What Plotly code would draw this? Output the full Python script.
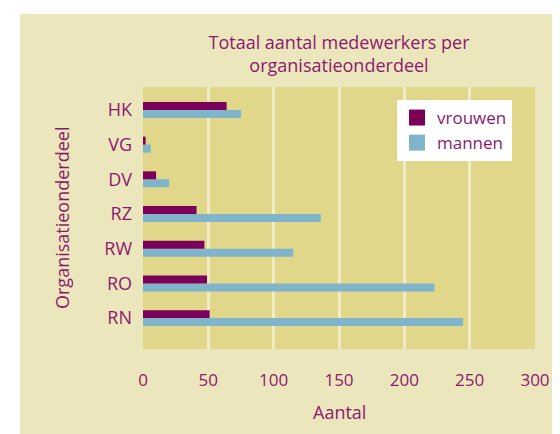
import plotly.graph_objects as go

categories = ["RN", "RO", "RW", "RZ", "DV", "VG", "HK"]
vrouwen = [51, 49, 47, 41, 10, 2, 64]
mannen = [245, 223, 115, 136, 20, 6, 75]

PURPLE = "#7a0059"
BLUE = "#7fb4cb"
TEXT = "#8b1a6e"
OUTER = "#ece6bd"
INNER = "#e1d78b"
GRID = "#f1ebc6"
FONT = "Open Sans"

OFF = 8  # page body margin
W, H = 560 - OFF, 434 - OFF
L, T = 143 - OFF, 87 - OFF
R, B = W - (535 - OFF), H - (349 - OFF)
pw, ph = W - L - R, H - T - B


def px(x):
    return (x - OFF - L) / pw


def py(y):
    return (H - B - (y - OFF)) / ph


fig = go.Figure()
fig.add_trace(go.Bar(y=categories, x=mannen, orientation="h", marker=dict(color=BLUE, line_width=0),
                     showlegend=False, name="mannen"))
fig.add_trace(go.Bar(y=categories, x=vrouwen, orientation="h", marker=dict(color=PURPLE, line_width=0),
                     showlegend=False, name="vrouwen"))
fig.add_trace(go.Scatter(x=[None], y=[None], mode="markers", name="vrouwen",
                         marker=dict(symbol="square", size=16, color=PURPLE)))
fig.add_trace(go.Scatter(x=[None], y=[None], mode="markers", name="mannen",
                         marker=dict(symbol="square", size=16, color=BLUE)))

fig.update_layout(
    width=W, height=H,
    margin=dict(l=L, r=R, t=T, b=B, autoexpand=False),
    paper_bgcolor=OUTER,
    plot_bgcolor=INNER,
    barmode="group",
    bargap=0.54,
    bargroupgap=0,
    font=dict(family=FONT, color=TEXT, size=18),
    title=dict(text="Totaal aantal medewerkers per<br>organisatieonderdeel",
               x=0.5, xref="paper", xanchor="center",
               y=1 - (49 - OFF) / H, yref="container", yanchor="middle",
               font=dict(size=18, color=TEXT, family=FONT)),
    legend=dict(x=px(397), y=py(100), xanchor="left", yanchor="top",
                bgcolor="white", font=dict(size=17, color=TEXT), tracegroupgap=0,
                itemsizing="trace"),
    shapes=[
        dict(type="rect", xref="paper", yref="paper", layer="below",
             x0=px(0), x1=px(20), y0=py(450), y1=py(0),
             fillcolor="white", line_width=0),
        dict(type="rect", xref="paper", yref="paper", layer="below",
             x0=px(0), x1=px(575), y0=py(14), y1=py(0),
             fillcolor="white", line_width=0),
    ],
    annotations=[
        dict(text="Organisatieonderdeel", xref="paper", yref="paper",
             x=px(62), y=py(218), textangle=-90,
             showarrow=False, xanchor="center", yanchor="middle",
             font=dict(size=18, color=TEXT)),
        dict(text="Aantal", xref="paper", yref="paper",
             x=px(339), y=py(412),
             showarrow=False, xanchor="center", yanchor="middle",
             font=dict(size=18, color=TEXT)),
    ],
)
fig.update_xaxes(range=[0, 300], dtick=50, showgrid=True, gridcolor=GRID, gridwidth=3,
                 zeroline=False, showline=False, ticks="", ticklabelstandoff=19,
                 automargin=False,
                 tickfont=dict(size=17, color=TEXT), fixedrange=True)
fig.update_yaxes(type="category", categoryorder="array", categoryarray=categories,
                 range=[-0.89, 6.66], showgrid=False, zeroline=False, showline=False,
                 automargin=False,
                 ticks="", ticklabelstandoff=10, tickfont=dict(size=18, color=TEXT))

fig.write_html("out.html")
